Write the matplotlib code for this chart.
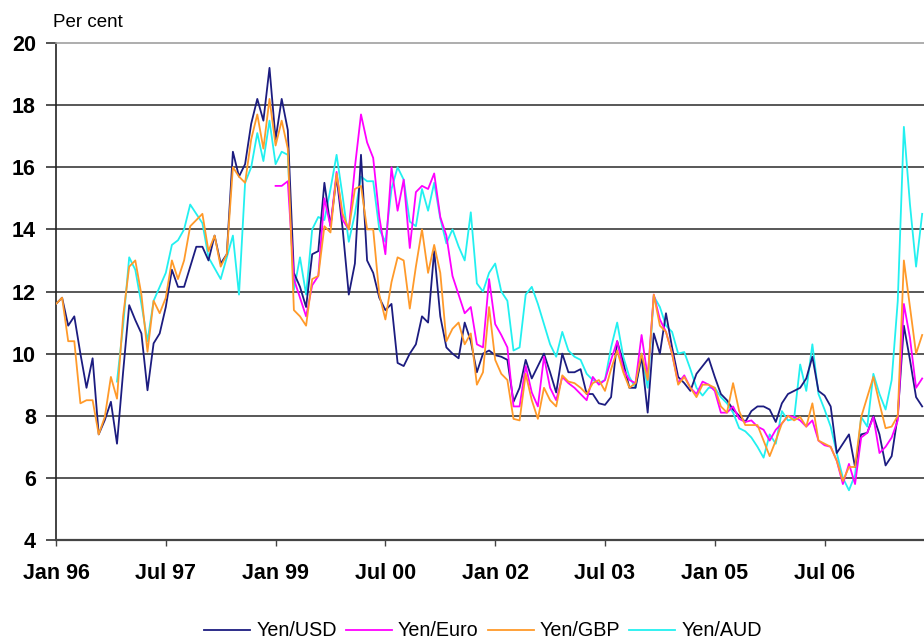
import numpy as np
import matplotlib
matplotlib.use("Agg")
import matplotlib.pyplot as plt

plt.rcParams['font.family'] = ['Liberation Sans', 'DejaVu Sans']

# Monthly series, first month Jan 1996 (index 0)
yen_usd = [11.6, 11.8, 10.9, 11.2, 10.0, 8.9, 9.85, 7.4, 7.86, 8.45,
           7.1, 9.4, 11.56, 11.08, 10.65, 8.82, 10.33, 10.65, 11.5, 12.7,
           12.15, 12.15, 12.8, 13.44, 13.44, 13.0, 13.8, 12.9, 13.2, 16.5,
           15.7, 16.1, 17.4, 18.2, 17.5, 19.2, 16.9, 18.2, 17.2, 12.6,
           12.15, 11.5, 13.2, 13.3, 15.5, 14.1, 15.7, 14.0, 11.9, 12.9,
           16.4, 13.0, 12.6, 11.8, 11.4, 11.6, 9.7, 9.6, 10.0, 10.3,
           11.2, 11.0, 13.3, 11.2, 10.2, 10.0, 9.85, 11.0, 10.4, 9.4,
           10.0, 10.1, 9.95, 9.9, 9.8, 8.45, 8.9, 9.8, 9.2, 9.6,
           10.0, 9.4, 8.75, 10.0, 9.4, 9.4, 9.5, 8.7, 8.7, 8.4,
           8.35, 8.6, 10.4, 9.7, 8.9, 8.9, 9.9, 8.1, 10.65, 10.0,
           11.3, 10.2, 9.25, 9.05, 8.8, 9.35, 9.6, 9.85, 9.25, 8.7,
           8.5, 8.2, 8.0, 7.8, 8.15, 8.3, 8.3, 8.2, 7.8, 8.4,
           8.7, 8.8, 8.9, 9.2, 9.9, 8.8, 8.65, 8.3, 6.8, 7.1,
           7.4, 6.35, 7.4, 7.45, 8.0, 7.4, 6.4, 6.7, 8.0, 10.9,
           9.8, 8.6, 8.3]

yen_gbp = [11.6, 11.8, 10.4, 10.4, 8.4, 8.5, 8.5, 7.4, 7.96, 9.25,
           8.55, 11.2, 12.8, 13.0, 11.9, 10.06, 11.7, 11.3, 11.8, 13.0,
           12.4, 13.0, 14.1, 14.3, 14.5, 13.3, 13.8, 12.8, 13.2, 16.0,
           15.7, 15.5, 16.9, 17.7, 16.6, 18.2, 16.7, 17.5, 16.6, 11.4,
           11.2, 10.9, 12.4, 12.5, 14.1, 13.9, 15.8, 14.5, 14.0, 15.3,
           15.4, 14.0, 14.0, 11.9, 11.1, 12.3, 13.1, 13.0, 11.45, 12.8,
           14.0, 12.6, 13.5, 12.6, 10.4, 10.8, 11.0, 10.3, 10.65, 9.0,
           9.4, 11.5, 9.8, 9.35, 9.15, 7.9, 7.85, 9.35, 8.5, 7.9,
           8.9, 8.5, 8.3, 9.3, 9.1, 9.05, 8.9, 8.7, 9.05, 9.15,
           8.8, 9.5, 10.1, 9.4, 8.9, 9.05, 10.0, 9.15, 11.9, 10.9,
           10.7, 10.0, 9.0, 9.25, 8.9, 8.6, 9.0, 9.0, 8.9, 8.3,
           8.1, 9.05, 8.15, 7.7, 7.7, 7.7, 7.2, 6.7, 7.2, 7.75,
           8.0, 7.85, 7.96, 7.65, 8.4, 7.2, 7.1, 7.0, 6.55, 5.9,
           6.35, 6.35, 7.96, 8.6, 9.25, 8.4, 7.6, 7.65, 8.0, 13.0,
           11.5, 10.0, 10.6]

# Euro series starts Jan 1999 (index 36)
euro_start = 36
yen_euro = [15.4, 15.4, 15.55, 12.4, 11.8, 11.2, 12.2, 12.5, 15.0, 14.1,
            15.85, 14.3, 14.0, 16.0, 17.7, 16.8, 16.3, 14.4, 13.2, 16.0,
            14.6, 15.6, 13.4, 15.2, 15.4, 15.3, 15.8, 14.4, 13.8, 12.5,
            11.9, 11.3, 11.5, 10.3, 10.2, 12.4, 10.95, 10.6, 10.2, 8.3,
            8.3, 9.6, 8.75, 8.3, 9.9, 8.9, 8.5, 9.25, 9.05, 8.9,
            8.7, 8.5, 9.25, 9.0, 9.15, 9.8, 10.4, 9.5, 9.15, 9.05,
            10.6, 9.25, 11.9, 11.1, 10.7, 10.0, 9.05, 9.3, 8.9, 8.7,
            9.1, 9.0, 8.8, 8.1, 8.1, 8.3, 7.9, 7.8, 7.85, 7.65,
            7.55, 7.2, 7.55, 7.75, 8.0, 7.96, 7.85, 7.65, 7.85, 7.2,
            7.05, 7.0, 6.55, 5.8, 6.45, 5.8, 7.3, 7.45, 7.96, 6.8,
            7.0, 7.3, 7.85, 11.6, 10.5, 8.9, 9.2]

# AUD series starts Nov 1996 (index 10)
aud_start = 10
yen_aud = [9.1, 10.9, 13.1, 12.7, 11.6, 10.4, 11.7, 12.15, 12.6, 13.5,
           13.65, 14.0, 14.8, 14.5, 14.2, 13.1, 12.75, 12.4, 13.1, 13.8,
           11.9, 15.5, 16.0, 17.1, 16.2, 17.5, 16.1, 16.5, 16.4, 12.05,
           13.1, 11.9, 14.0, 14.4, 14.3, 15.3, 16.4, 15.05, 13.6, 14.5,
           15.7, 15.55, 15.55, 14.0, 13.6, 15.3, 16.0, 15.6, 14.25, 14.1,
           15.3, 14.6, 15.5, 14.35, 13.55, 14.0, 13.45, 13.0, 14.55, 12.26,
           12.0, 12.6, 12.9, 12.0, 11.7, 10.1, 10.2, 11.9, 12.15, 11.6,
           10.95, 10.3, 9.9, 10.7, 10.1, 9.9, 9.8, 9.35, 9.15, 9.05,
           9.15, 10.2, 11.0, 9.9, 9.25, 8.9, 10.0, 8.9, 11.85, 11.5,
           10.9, 10.7, 10.0, 10.05, 9.5, 8.9, 8.65, 8.9, 8.9, 8.6,
           8.4, 8.1, 7.6, 7.5, 7.3, 7.0, 6.65, 7.4, 7.1, 8.15,
           7.85, 7.9, 9.65, 8.8, 10.3, 8.7, 8.2, 7.65, 6.8, 6.0,
           5.6, 6.1, 7.96, 7.65, 9.35, 8.7, 8.2, 9.15, 11.7, 17.3,
           14.8, 12.8, 14.5]

tick_months = [0, 18, 36, 54, 72, 90, 108, 126]
tick_labels = ["Jan 96", "Jul 97", "Jan 99", "Jul 00", "Jan 02", "Jul 03",
               "Jan 05", "Jul 06"]
y_ticks = [4, 6, 8, 10, 12, 14, 16, 18, 20]

W, H = 924, 642
fig = plt.figure(figsize=(W / 100, H / 100), dpi=100)
ax = fig.add_axes([56 / W, 1 - 540 / H, 1 - 56 / W, (540 - 43) / H])

x_usd = np.arange(len(yen_usd))
x_gbp = np.arange(len(yen_gbp))
x_euro = np.arange(len(yen_euro)) + euro_start
x_aud = np.arange(len(yen_aud)) + aud_start

lw = 1.3
ax.plot(x_usd, yen_usd, color="#1c1c80", lw=lw, label="Yen/USD", zorder=3)
ax.plot(x_euro, yen_euro, color="#ff00ff", lw=lw, label="Yen/Euro", zorder=3)
ax.plot(x_gbp, yen_gbp, color="#ff9a2a", lw=lw, label="Yen/GBP", zorder=3)
ax.plot(x_aud, yen_aud, color="#22f0f0", lw=lw, label="Yen/AUD", zorder=2.5)

ax.set_xlim(0, 142.3)
ax.set_ylim(4, 20)

# horizontal grid
for v in y_ticks[1:-1]:
    ax.axhline(v, color="#2a2a2a", lw=1.1, zorder=1)

ax.spines["right"].set_visible(False)
ax.spines["top"].set_color("#a0a0a0")
ax.spines["top"].set_linewidth(1.2)
ax.spines["left"].set_color("#222222")
ax.spines["left"].set_linewidth(1.2)
ax.spines["bottom"].set_color("#444444")
ax.spines["bottom"].set_linewidth(1.6)

ax.set_yticks(y_ticks)
ax.set_yticklabels([str(v) for v in y_ticks])
ax.set_xticks(tick_months)
ax.set_xticklabels(tick_labels)

ax.tick_params(axis="y", direction="out", length=7, width=1.1, pad=7.5,
               labelsize=15.5, color="#222222")
ax.tick_params(axis="x", direction="out", length=4.5, width=1.0, pad=12,
               labelsize=15.5, color="#444444")
for lab in ax.get_xticklabels() + ax.get_yticklabels():
    lab.set_fontweight("bold")

fig.text(53 / W, 1 - 27 / H, "Per cent", fontsize=13.5, ha="left",
         va="baseline")

fig.legend(loc="center", bbox_to_anchor=(483 / W, 1 - 631 / H), ncol=4,
           frameon=False, fontsize=14.2, handlelength=2.35,
           handletextpad=0.3, columnspacing=0.45, borderaxespad=0,
           borderpad=0)

fig.savefig("out.png", dpi=100)
